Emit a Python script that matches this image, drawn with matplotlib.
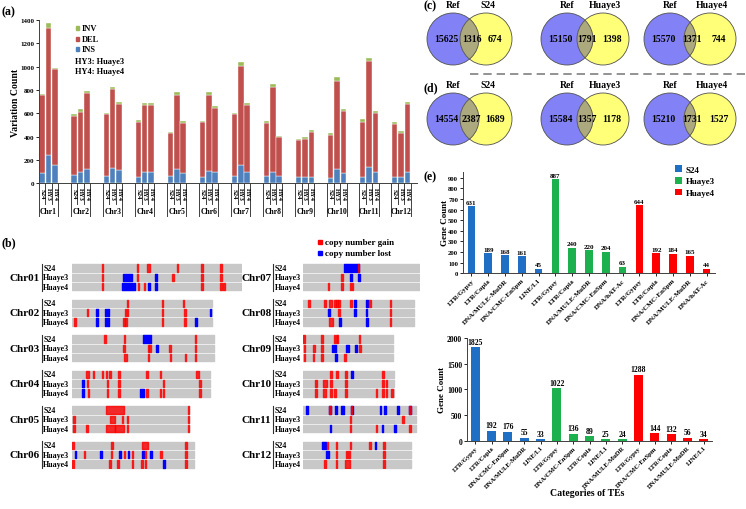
import numpy as np
import matplotlib
matplotlib.use("Agg")
import matplotlib.pyplot as plt
from matplotlib.patches import Patch, Circle, Rectangle

plt.rcParams['font.family'] = ['Liberation Serif', 'DejaVu Serif']
plt.rcParams['font.weight'] = 'bold'
plt.rcParams['axes.labelweight'] = 'bold'

# ---------------- datos panel (a): variaciones estructurales por cromosoma
chroms_a = ['Chr1', 'Chr2', 'Chr3', 'Chr4', 'Chr5', 'Chr6',
            'Chr7', 'Chr8', 'Chr9', 'Chr10', 'Chr11', 'Chr12']
varieties_a = ['S24', 'HY3', 'HY4']
ins_s24 = [88, 74, 63, 57, 60, 57, 65, 60, 51, 45, 55, 57]
del_s24 = [672, 503, 527, 466, 368, 468, 525, 460, 320, 372, 473, 451]
inv_s24 = [5, 17, 10, 20, 12, 9, 12, 11, 9, 14, 21, 17]
ins_hy3 = [245, 94, 131, 100, 123, 108, 160, 100, 51, 123, 140, 57]
del_hy3 = [1086, 520, 677, 574, 637, 652, 845, 728, 331, 756, 906, 372]
inv_hy3 = [43, 23, 15, 12, 20, 20, 35, 26, 15, 32, 28, 19]
ins_hy4 = [160, 123, 114, 96, 86, 94, 97, 63, 54, 90, 95, 94]
del_hy4 = [819, 648, 563, 576, 431, 549, 577, 331, 383, 530, 505, 583]
inv_hy4 = [12, 20, 17, 14, 17, 17, 14, 11, 20, 17, 16, 17]

# ---------------- datos panel (b): CNV (Mb); numero = linea, tupla = bloque
rows_b = ['S24', 'Huaye3', 'Huaye4']
chr_len = {'Chr01': 43.27, 'Chr02': 35.94, 'Chr03': 36.41, 'Chr04': 35.50,
           'Chr05': 29.96, 'Chr06': 31.25, 'Chr07': 29.70, 'Chr08': 28.44,
           'Chr09': 23.01, 'Chr10': 23.21, 'Chr11': 29.02, 'Chr12': 27.53}
cnv_gain = {
    'Chr01': [[7.8, 16.8, (19.3, 19.9), 27.1, 33.4, 38.2],
              [7.8, 16.8, 25.9, 33.4, 38.2],
              [7.8, 17.0, 18.6, 33.4, 38.2, 39.0]],
    'Chr02': [[14.2, 23.2, 28.6],
              [4.0, 13.7, 14.2, 23.2, 29.0],
              [0.7, 13.3, 13.8, 23.2, 29.0]],
    'Chr03': [[8.4, 13.5, 31.7],
              [13.3, 19.6, 20.0, 25.1, 31.7],
              [(13.3, 14.1), 19.6, 25.3, 29.1, 31.7]],
    'Chr04': [[(3.7, 4.4), 5.5, 7.8, 8.9, 9.7, 12.0, 19.3, 22.7, (31.8, 32.6)],
              [(3.8, 4.2), 9.1, 12.1, 23.5, 32.8],
              [4.2, 9.1, 12.1, 19.3, 22.7, 23.5, 32.8]],
    'Chr05': [[(8.7, 13.3), 29.9],
              [0.5, (9.7, 10.9), 13.0, 14.2, 29.9],
              [0.5, 3.9, (8.7, 10.9), (11.1, 13.3), 14.2, 29.9]],
    'Chr06': [[0.2, 10.3, (17.9, 19.5), 29.2],
              [3.2, 10.1, 13.5, 15.5, 18.9, 22.8, 29.2],
              [0.2, 9.8, 11.8, 15.5, 17.9, 18.9, 29.2]],
    'Chr07': [[14.2],
              [(9.6, 10.1)],
              [6.5, (9.7, 10.1), 12.1, 12.6]],
    'Chr08': [[1.5, 5.6, (6.7, 7.4), 8.1, 8.6, 9.1, 12.3, 17.1, 22.4],
              [9.2, 22.4],
              [(6.5, 7.5), 22.4]],
    'Chr09': [[0.2, 4.8, 8.0, 8.5, 8.8, (14.2, 14.5)],
              [0.3, 2.8, 4.8, 14.5],
              [0.3, 2.6, 4.8, 10.7]],
    'Chr10': [[7.1, 8.7, 10.9, 20.5],
              [3.2, (5.1, 6.0), 7.1, 10.9, 20.5, 21.3],
              [3.2, (5.0, 5.8), 7.1, 8.1, 10.9, 18.8, 20.5, 21.3, 22.8]],
    'Chr11': [[6.8, 12.4, 27.4],
              [12.1, 25.6],
              [12.1, 18.8, 27.4]],
    'Chr12': [[6.2, 8.5, 12.1, (16.8, 17.3), 20.7],
              [8.5, 11.1, 11.7, 20.7],
              [5.6, 8.5, (10.6, 12.1), 20.7]],
}
cnv_loss = {
    'Chr01': [[], [(13.0, 15.4), 21.5], [(12.8, 16.2), 19.7, 21.5]],
    'Chr02': [[], [6.4, 8.6, 9.2, 35.5], [6.4, 8.6, 9.3, 31.8]],
    'Chr03': [[(18.3, 20.2)], [21.7], []],
    'Chr04': [[], [(2.5, 3.2)], [(2.6, 3.2), (17.4, 18.5)]],
    'Chr05': [[], [], []],
    'Chr06': [[], [0.9, 7.4, 12.4, 14.5, 18.3, 20.2], [23.6]],
    'Chr07': [[(10.5, 14.2)], [(12.1, 12.6), 14.3], []],
    'Chr08': [[13.2, 16.3], [(6.3, 6.8), 13.3, 16.2], [9.4, 16.3]],
    'Chr09': [[], [7.5, 8.2, (11.0, 11.6), 13.5], [8.4]],
    'Chr10': [[(12.3, 12.8)], [], []],
    'Chr11': [[1.0, 6.8, 8.4, (9.6, 10.4), 12.4, 19.8, 20.9, (23.9, 24.6), 27.4],
              [], [7.0, 20.3, 23.5]],
    'Chr12': [[(4.9, 5.7), 18.5], [(5.8, 6.5)], []],
}

# ---------------- datos paneles (c) y (d): diagramas de Venn
venn_names = ['S24', 'Huaye3', 'Huaye4']
venn_c = [(15625, 1316, 674), (15150, 1791, 1398), (15570, 1371, 744)]
venn_d = [(14554, 2387, 1689), (15584, 1357, 1178), (15210, 1731, 1527)]

# ---------------- datos panel (e): genes por categoria de TE
cultivars = ['S24', 'Huaye3', 'Huaye4']
top_cats = ['LTR/Gypsy', 'LTR/Copia', 'DNA/MULE-MuDR', 'DNA/CMC-EnSpm', 'LINE/L1',
            'LTR/Gypsy', 'LTR/Copia', 'DNA/MULE-MuDR', 'DNA/CMC-EnSpm', 'DNA/hAT-Ac',
            'LTR/Gypsy', 'LTR/Copia', 'DNA/CMC-EnSpm', 'DNA/MULE-MuDR', 'DNA/hAT-Ac']
top_counts = [631, 189, 168, 161, 45, 887, 240, 220, 204, 63, 644, 192, 184, 165, 44]
bot_cats = ['LTR/Gypsy', 'LTR/Copia', 'DNA/CMC-EnSpm', 'DNA/MULE-MuDR', 'LINE/L1',
            'LTR/Gypsy', 'DNA/CMC-EnSpm', 'LTR/Copia', 'LINE/L1', 'DNA/MULE-MuDR',
            'LTR/Gypsy', 'DNA/CMC-EnSpm', 'LTR/Copia', 'DNA/MULE-MuDR', 'LINE/L1']
bot_counts = [1825, 192, 176, 55, 33, 1022, 136, 89, 25, 24, 1288, 144, 132, 56, 34]

# colores
C_INS, C_DEL, C_INV = '#4F81BD', '#C0504D', '#9BBB59'
C_GAIN, C_LOSS, C_TRACK = '#FF0000', '#0000FF', '#C8C8C8'
C_CULT = ['#1F6FC4', '#1DB04F', '#FF0000']

W, H = 746, 510
fig = plt.figure(figsize=(W / 100, H / 100), dpi=100)


def px_axes(x0, y0, x1, y1):
    return fig.add_axes([x0 / W, 1 - y1 / H, (x1 - x0) / W, (y1 - y0) / H])


# ================= panel (a)
ax = px_axes(39, 21, 417, 184.3)
ax_h = 184.3 - 21


def ay(py):
    return -(py - 184.3) / ax_h


series = [(ins_s24, del_s24, inv_s24), (ins_hy3, del_hy3, inv_hy3),
          (ins_hy4, del_hy4, inv_hy4)]
gx = np.arange(len(chroms_a)) * 5
trans = ax.get_xaxis_transform()
for k, (ins, dl, inv) in enumerate(series):
    x = gx + k
    ins, dl, inv = np.array(ins), np.array(dl), np.array(inv)
    ax.bar(x, ins, 0.86, color=C_INS, ec='white', lw=0.3)
    ax.bar(x, dl, 0.86, bottom=ins, color=C_DEL, ec='white', lw=0.3)
    ax.bar(x, inv, 0.86, bottom=ins + dl, color=C_INV, ec='white', lw=0.3)
    for xi in x:
        ax.text(xi, ay(194), varieties_a[k], rotation=270, ha='center', va='center',
                fontsize=4.8, transform=trans, clip_on=False)
for g, name in zip(gx, chroms_a):
    ax.text(g + 1, ay(212), name, ha='center', va='center', fontsize=5.5,
            transform=trans, clip_on=False)
    for xb in (g - 0.5, g + 2.5):
        ax.plot([xb, xb], [0, ay(217)], transform=trans, clip_on=False,
                color='#404040', lw=0.7)
    for xb in (g + 0.5, g + 1.5):
        ax.plot([xb, xb], [0, ay(205)], transform=trans, clip_on=False,
                color='#404040', lw=0.7)
ax.set_xlim(-0.5, 58.5)
ax.set_ylim(0, 1400)
ax.set_yticks(range(0, 1401, 200))
ax.set_xticks([])
ax.tick_params(axis='y', labelsize=5, length=2, width=0.6, pad=1.5)
for s in ['top', 'right']:
    ax.spines[s].set_visible(False)
for s in ['left', 'bottom']:
    ax.spines[s].set_linewidth(0.7)
    ax.spines[s].set_color('#404040')

# ================= panel (b)
PX_MB = 3.9
GROUP = 35.5 / 9.3
col_chrs = [['Chr01', 'Chr02', 'Chr03', 'Chr04', 'Chr05', 'Chr06'],
            ['Chr07', 'Chr08', 'Chr09', 'Chr10', 'Chr11', 'Chr12']]
col_x0 = [72, 303.3]


def spans(items, point_w):
    out = []
    for it in items:
        if isinstance(it, tuple):
            out.append((it[0], it[1] - it[0]))
        else:
            out.append((it - point_w / 2, point_w))
    return out


for col, names in enumerate(col_chrs):
    xmax = max(chr_len[n] for n in names)
    x0 = col_x0[col]
    axb = px_axes(x0, 264.35, x0 + xmax * PX_MB, 469.7)
    axb.set_xlim(0, xmax)
    axb.set_ylim(5 * GROUP + 2.5, -0.5)
    axb.axis('off')
    for i, name in enumerate(names):
        y0 = i * GROUP
        for r in range(3):
            y = y0 + r
            axb.broken_barh([(0, chr_len[name])], (y - 0.39, 0.78), color=C_TRACK)
            axb.broken_barh(spans(cnv_loss[name][r], 0.45), (y - 0.39, 0.78),
                            color=C_LOSS)
            axb.broken_barh(spans(cnv_gain[name][r], 0.4), (y - 0.39, 0.78),
                            color=C_GAIN, alpha=0.8)
            axb.text(-7.4, y, rows_b[r], ha='left', va='center', fontsize=5.8,
                     clip_on=False)
        axb.plot([-7.8, -7.8], [y0 - 0.45, y0 + 2.45], color='#303030', lw=0.8,
                 clip_on=False)
        axb.text(-8.2, y0 + 1, name, ha='right', va='center', fontsize=8,
                 clip_on=False)

# ================= panel (e) arriba
axe = px_axes(463, 173, 715, 274.3)
xe = np.arange(len(top_cats))
cols = [C_CULT[i // 5] for i in range(len(top_cats))]
axe.bar(xe, top_counts, 0.45, color=cols)
for xi, v in zip(xe, top_counts):
    axe.annotate(str(v), (xi, v), xytext=(0, 1), textcoords='offset points',
                 ha='center', va='bottom', fontsize=5)
axe.set_xlim(-0.5, 14.5)
axe.set_ylim(0, 955)
axe.set_yticks(range(0, 901, 100))
axe.set_xticks(xe)
axe.set_xticklabels(top_cats, rotation=45, ha='right', rotation_mode='anchor',
                    fontsize=5)
axe.tick_params(axis='y', labelsize=4.8, length=2, width=0.6, pad=1.5)
axe.tick_params(axis='x', length=2, width=0.6, pad=1)

# ================= panel (e) abajo
axf = px_axes(467, 339, 712, 441.7)
cols = [C_CULT[i // 5] for i in range(len(bot_cats))]
axf.bar(xe, bot_counts, 0.55, color=cols)
for xi, v in zip(xe, bot_counts):
    axf.annotate(str(v), (xi, v), xytext=(0, 1), textcoords='offset points',
                 ha='center', va='bottom', fontsize=5.5)
axf.set_xlim(-0.5, 14.5)
axf.set_ylim(0, 2000)
axf.set_yticks(range(0, 2001, 500))
axf.set_xticks(xe)
axf.set_xticklabels(bot_cats, rotation=45, ha='right', rotation_mode='anchor',
                    fontsize=4.8)
axf.tick_params(axis='y', labelsize=5.5, length=2, width=0.6, pad=1.5)
axf.tick_params(axis='x', length=2, width=0.6, pad=1)

for a in (axe, axf):
    for s in ['top', 'right']:
        a.spines[s].set_visible(False)
    for s in ['left', 'bottom']:
        a.spines[s].set_linewidth(0.7)
        a.spines[s].set_color('#404040')

fig.legend(handles=[Patch(facecolor=c) for c in C_CULT], labels=cultivars,
           loc='upper left', bbox_to_anchor=(675 / W, 1 - 166 / H), frameon=False,
           fontsize=6.5, handlelength=0.8, handleheight=0.8, handletextpad=0.4,
           labelspacing=0.35, borderaxespad=0, borderpad=0)

# ================= capa superior en pixeles: Venn, etiquetas y leyendas
ov = px_axes(0, 0, W, H)
ov.set_xlim(0, W)
ov.set_ylim(H, 0)
ov.axis('off')

venn_pairs = [(453, 486), (567, 603), (670, 710)]
venn_rows = [40, 120]
R = 26
for cy, vals in zip(venn_rows, [venn_c, venn_d]):
    for (bx, yx), name, (a_only, both, b_only) in zip(venn_pairs, venn_names, vals):
        cb = Circle((bx, cy), R, fc='#8282F6', ec='none')
        cyl = Circle((yx, cy), R, fc='#FFFF78', ec='none')
        ov.add_patch(cb)
        ov.add_patch(cyl)
        inter = Circle((yx, cy), R, fc='#ADA97E', ec='none')
        ov.add_patch(inter)
        inter.set_clip_path(cb)
        for cx in (bx, yx):
            ov.add_patch(Circle((cx, cy), R, fc='none', ec='#505050', lw=0.6))
        ov.text(bx - 7, cy, f'{a_only}', ha='center', va='center', fontsize=7)
        ov.text((bx + yx) / 2 + 2, cy, f'{both}', ha='center', va='center', fontsize=7)
        ov.text(yx + 9, cy, f'{b_only}', ha='center', va='center', fontsize=7)
        ov.text(bx, cy - 34, 'Ref', ha='center', va='center', fontsize=7)
        ov.text(yx + 2, cy - 34, name, ha='center', va='center', fontsize=7)
ov.plot([470, 746], [75, 75], color='#808080', lw=1.2, dashes=(5, 3))

# etiquetas de panel
for lab, (px, py) in zip(['(a)', '(b)', '(c)', '(d)', '(e)'],
                         [(1, 12), (1, 243), (423, 6), (423, 88), (423, 177)]):
    ov.text(px, py, lab, ha='left', va='center', fontsize=8.5)

# leyenda (a)
for lab, col, py in zip(['INV', 'DEL', 'INS'], [C_INV, C_DEL, C_INS], [29, 40, 50]):
    ov.add_patch(Rectangle((75.5, py - 1.8), 3.6, 3.6, color=col))
    ov.text(82, py, lab, ha='left', va='center', fontsize=6)
ov.text(75, 62, 'HY3: Huaye3', ha='left', va='center', fontsize=6)
ov.text(75, 72, 'HY4: Huaye4', ha='left', va='center', fontsize=6)
ov.text(15, 103, 'Variation Count', rotation=90, ha='center', va='center', fontsize=7)

# leyenda (b)
for lab, col, py in zip(['copy number gain', 'copy number lost'],
                        [C_GAIN, C_LOSS], [243, 254]):
    ov.add_patch(Rectangle((318, py - 1.8), 3.6, 3.6, color=col))
    ov.text(325, py, lab, ha='left', va='center', fontsize=6.5)

# rotulos (e)
ov.text(445, 223, 'Gene Count', rotation=90, ha='center', va='center', fontsize=6.5)
ov.text(442, 390, 'Gene Count', rotation=90, ha='center', va='center', fontsize=6.5)
ov.text(587, 494, 'Categories of TEs', ha='center', va='center', fontsize=7)

fig.savefig('out.png', dpi=100)
